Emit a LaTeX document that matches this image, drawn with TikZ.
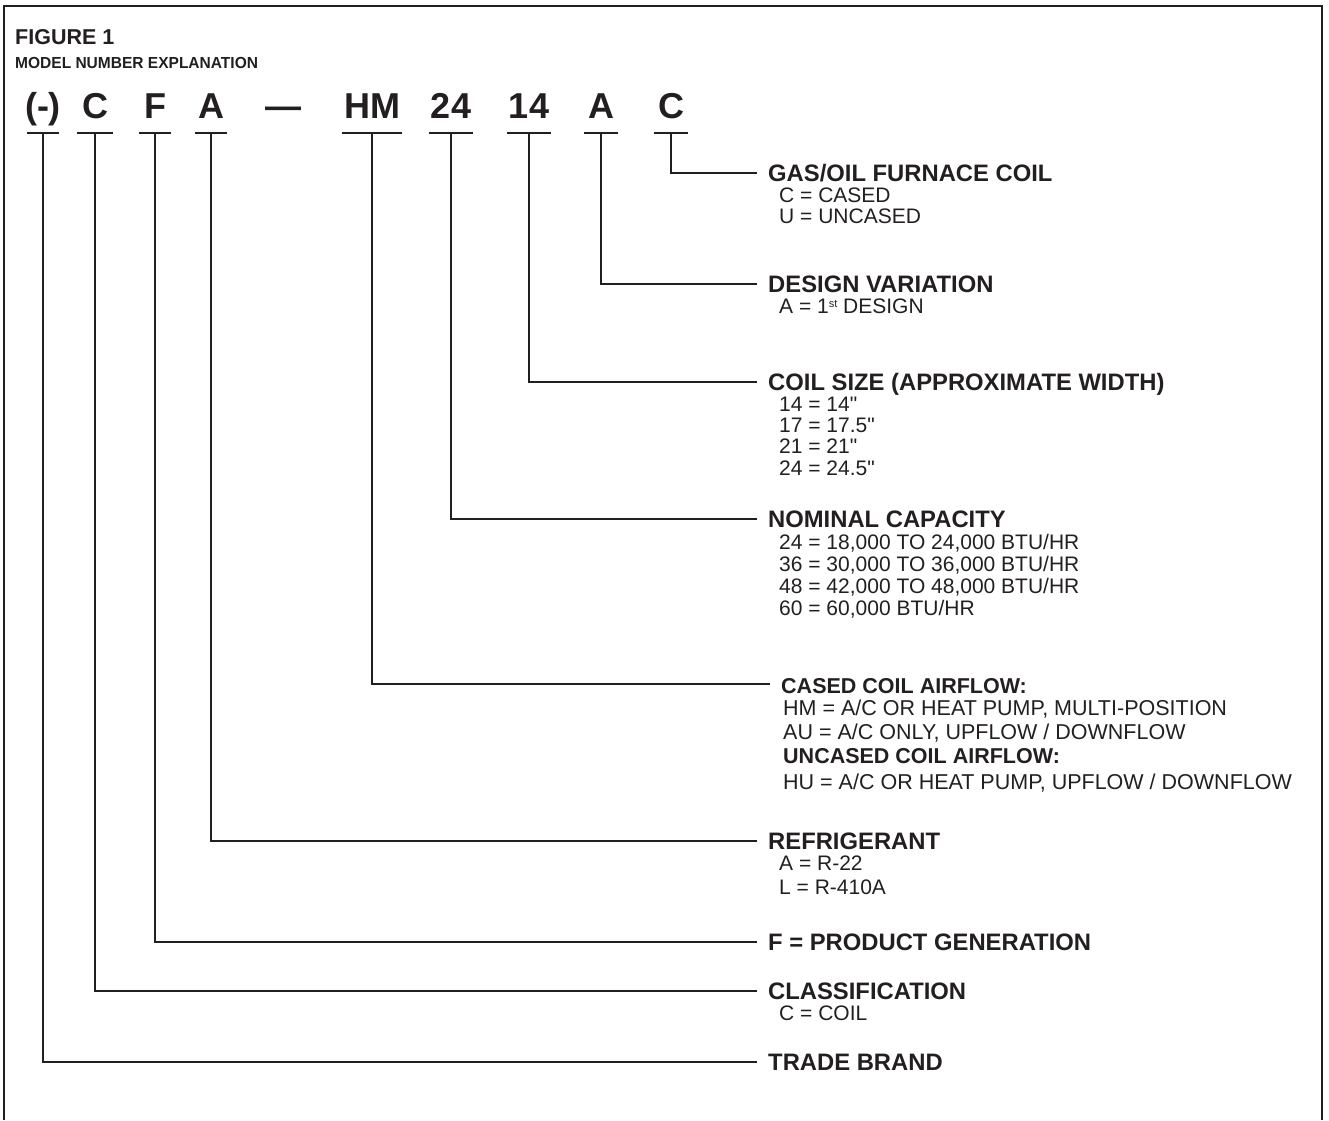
\documentclass[tikz,border=0pt]{standalone}
\usepackage{fontspec}
\usepackage{graphicx}
\setmainfont{Liberation Sans}
\usetikzlibrary{positioning}
\definecolor{ink}{RGB}{35,31,32}
\newcommand{\inch}{\XeTeXglyph\XeTeXcharglyph"22\relax}

\begin{document}
\begin{tikzpicture}[x=1pt,y=-1pt,
    every node/.style={text=ink},
    frame/.style={draw=ink,line width=2pt},
    lead/.style={draw=ink,line width=1.3pt},
    code/.style={font=\fontsize{36}{36}\selectfont\bfseries,inner sep=0pt,anchor=base},
    head/.style={font=\fontsize{23.8}{26}\selectfont\bfseries,anchor=west,inner xsep=11pt,inner ysep=0pt,text height=17pt,text depth=0pt},
    airhead/.style={head,font=\fontsize{21.5}{24}\selectfont\bfseries,text height=15.4pt},
    sub/.style={font=\fontsize{21}{21.3}\selectfont,align=left,inner sep=0pt,below right=6pt and 22pt of #1.south west},
  ]
  \useasboundingbox (0,0) rectangle (1329,1120);
  % frame
  \draw[frame] (4,1120) -- (4,6) -- (1322,6) -- (1322,1120);

  % heading
  \node[anchor=base west,inner sep=0pt,font=\fontsize{21.5}{22}\selectfont\bfseries] (figTitle) at (15,44) {FIGURE 1};
  \node[anchor=base west,inner sep=0pt,font=\fontsize{16}{16}\selectfont\bfseries] (figSub) at ([yshift=-24pt]figTitle.base west) {\scalebox{0.97}[1]{MODEL NUMBER EXPLANATION}};

  % model number
  \node[code] (cBrand) at (43,118) {(-)};
  \node[code] (cClass) at (95,118) {C};
  \node[code] (cGen) at (155,118) {F};
  \node[code] (cRef) at (211,118) {A};
  \node[code] (cDash) at (283,118) {—};
  \node[code] (cAir) at (372,118) {HM};
  \node[code] (cCap) at (451,118) {24};
  \node[code] (cSize) at (529,118) {14};
  \node[code] (cDes) at (601,118) {A};
  \node[code] (cCoil) at (671,118) {C};
  \foreach \c/\w in {cBrand/16,cClass/18,cGen/16,cRef/16,cAir/30,cCap/22,cSize/22,cDes/17,cCoil/17}
    \draw[lead] ([xshift=-\w*1pt,yshift=-15pt]\c.base) -- ([xshift=\w*1pt,yshift=-15pt]\c.base);

  % explanations
  \node[head] (hCoil) at (757,173) {GAS/OIL FURNACE COIL};
  \node[sub=hCoil] (dCoil) {C = CASED\\U = UNCASED};
  \node[head] (hDes) at (757,284) {DESIGN VARIATION};
  \node[sub=hDes] (dDes) {A = 1{\fontsize{11}{11}\selectfont\raisebox{6pt}{st}} DESIGN};
  \node[head] (hSize) at (757,382) {COIL SIZE (APPROXIMATE WIDTH)};
  \node[sub=hSize] (dSize) {14 = 14\inch\\17 = 17.5\inch\\21 = 21\inch\\24 = 24.5\inch};
  \node[head] (hCap) at (757,519) {NOMINAL CAPACITY};
  \node[sub=hCap,font=\fontsize{21}{22}\selectfont] (dCap) {24 = 18,000 TO 24,000 BTU/HR\\36 = 30,000 TO 36,000 BTU/HR\\48 = 42,000 TO 48,000 BTU/HR\\60 = 60,000 BTU/HR};
  \node[airhead] (hAir) at (770,686) {CASED COIL AIRFLOW:};
  \node[sub=hAir,font=\fontsize{21.5}{24}\selectfont,below right=6pt and 13pt of hAir.south west] (dAir) {HM = A/C OR HEAT PUMP, MULTI-POSITION\\AU = A/C ONLY, UPFLOW / DOWNFLOW\\\textbf{UNCASED COIL AIRFLOW:}\\[2pt]HU = A/C OR HEAT PUMP, UPFLOW / DOWNFLOW};
  \node[head] (hRef) at (757,841) {REFRIGERANT};
  \node[sub=hRef,font=\fontsize{21}{24}\selectfont] (dRef) {A = R-22\\L = R-410A};
  \node[head] (hGen) at (757,942) {F = PRODUCT GENERATION};
  \node[head] (hClass) at (757,991) {CLASSIFICATION};
  \node[sub=hClass] (dClass) {C = COIL};
  \node[head] (hBrand) at (757,1062) {TRADE BRAND};

  % leaders
  \draw[lead] ([yshift=-15pt]cCoil.base) |- (hCoil.west);
  \draw[lead] ([yshift=-15pt]cDes.base) |- (hDes.west);
  \draw[lead] ([yshift=-15pt]cSize.base) |- (hSize.west);
  \draw[lead] ([yshift=-15pt]cCap.base) |- (hCap.west);
  \draw[lead] ([yshift=-15pt]cAir.base) |- ([yshift=2pt]hAir.west);
  \draw[lead] ([yshift=-15pt]cRef.base) |- (hRef.west);
  \draw[lead] ([yshift=-15pt]cGen.base) |- (hGen.west);
  \draw[lead] ([yshift=-15pt]cClass.base) |- (hClass.west);
  \draw[lead] ([yshift=-15pt]cBrand.base) |- (hBrand.west);
\end{tikzpicture}
\end{document}
